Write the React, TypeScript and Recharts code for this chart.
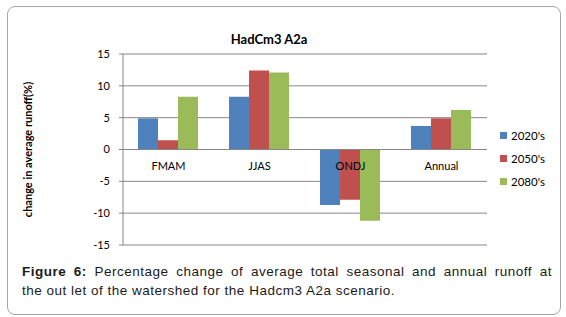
import { BarChart, Bar, XAxis, YAxis, CartesianGrid, ReferenceLine, Legend } from 'recharts'

const categories = ['FMAM', 'JJAS', 'ONDJ', 'Annual']
const values2020 = [4.9, 8.3, -8.7, 3.7]
const values2050 = [1.45, 12.4, -7.9, 4.9]
const values2080 = [8.3, 12.1, -11.2, 6.2]
const yTicks = [-15, -10, -5, 0, 5, 10, 15]

const series = [
  { key: 'v2020', name: "2020's", color: '#4f81bd' },
  { key: 'v2050', name: "2050's", color: '#c0504d' },
  { key: 'v2080', name: "2080's", color: '#9bbb59' },
]

const data = categories.map((c, i) => ({
  name: c,
  v2020: values2020[i],
  v2050: values2050[i],
  v2080: values2080[i],
}))

const W = 566
const H = 260
const TOP = 54
const X_AXIS_H = 15
const PLOT_H = H - TOP - X_AXIS_H
const CHART_FONT = 'Lato, "Open Sans", sans-serif'
const CAPTION_FONT = '"Liberation Sans", Arial, sans-serif'
const GRID = '#868686'

function CategoryTick({ x, payload }: any) {
  // categories sit just under the zero line, like Excel does
  const y = TOP + PLOT_H / 2 + 20
  return (
    <text x={x} y={y} textAnchor="middle" fontSize={11} fill="#000" fontFamily={CHART_FONT}>
      {payload.value}
    </text>
  )
}

function YTitle({ viewBox }: any) {
  const cx = 27
  const cy = viewBox.y + viewBox.height / 2
  return (
    <text
      x={cx}
      y={cy}
      transform={`rotate(-90 ${cx} ${cy})`}
      textAnchor="middle"
      dominantBaseline="central"
      fontSize={11}
      fontWeight="bold"
      fill="#000"
      fontFamily={CHART_FONT}
    >
      change in average runoff(%)
    </text>
  )
}

function LegendBox({ payload }: any) {
  return (
    <div style={{ fontFamily: CHART_FONT, fontSize: 11.5, color: '#000' }}>
      {(payload || []).map((p: any) => (
        <div key={p.value} style={{ display: 'flex', alignItems: 'center', height: 23 }}>
          <span style={{ width: 7, height: 7, background: p.color, marginRight: 4, display: 'inline-block' }} />
          {p.value}
        </div>
      ))}
    </div>
  )
}

const captionBase = {
  fontFamily: CAPTION_FONT,
  fontSize: 13.5,
  letterSpacing: 0.5,
  lineHeight: '19px',
  color: '#1a1a1a',
}

export default function App() {
  return (
    <div style={{ position: 'absolute', left: 0, top: 0, width: W, height: 317, background: '#fff' }}>
      <div
        style={{
          position: 'absolute',
          left: 7,
          top: 6,
          width: 552,
          height: 307,
          border: '1px solid #a6a6a6',
          borderRadius: 8,
        }}
      />
      <div
        style={{
          position: 'absolute',
          left: 0,
          top: 31,
          width: 538,
          textAlign: 'center',
          fontFamily: CHART_FONT,
          fontWeight: 'bold',
          fontSize: 13,
        }}
      >
        HadCm3 A2a
      </div>
      <div style={{ position: 'absolute', left: 0, top: 0 }}>
        <BarChart
          width={W}
          height={H}
          data={data}
          margin={{ top: TOP, right: 79, bottom: 0, left: 23 }}
          barCategoryGap="16.5%"
          barGap={0}
        >
          <CartesianGrid vertical={false} stroke={GRID} strokeDasharray="" />
          <XAxis
            dataKey="name"
            height={X_AXIS_H}
            axisLine={false}
            tickLine={false}
            tick={<CategoryTick />}
            interval={0}
          />
          <YAxis
            domain={[-15, 15]}
            ticks={yTicks}
            width={40}
            tickSize={4}
            tickMargin={9}
            axisLine={{ stroke: GRID }}
            tickLine={{ stroke: GRID }}
            tick={{ fontSize: 11, fill: '#000', fontFamily: CHART_FONT }}
            label={<YTitle />}
          />
          <ReferenceLine y={0} stroke={GRID} />
          <Legend
            layout="vertical"
            verticalAlign="top"
            align="left"
            wrapperStyle={{ left: 500, top: 124, width: 60 }}
            content={<LegendBox />}
          />
          {series.map((s) => (
            <Bar key={s.key} dataKey={s.key} name={s.name} fill={s.color} isAnimationActive={false} />
          ))}
        </BarChart>
      </div>
      <div style={{ position: 'absolute', left: 22, top: 262, width: 530 }}>
        <div style={{ ...captionBase, textAlign: 'justify', textAlignLast: 'justify' }}>
          <b>Figure 6:</b> Percentage change of average total seasonal and annual runoff at
        </div>
        <div style={captionBase}>the out let of the watershed for the Hadcm3 A2a scenario.</div>
      </div>
    </div>
  )
}
